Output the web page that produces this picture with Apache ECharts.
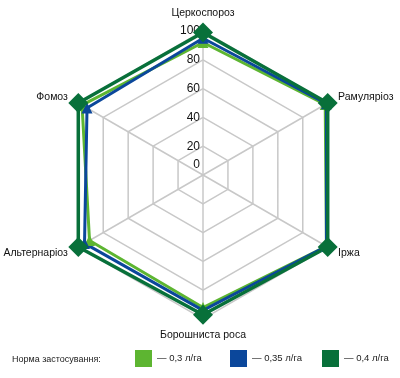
<!DOCTYPE html>
<html><head><meta charset="utf-8">
<script src="https://cdn.jsdelivr.net/npm/echarts@6/dist/echarts.min.js"></script>
<style>html,body{margin:0;padding:0;background:#fff}#c{width:400px;height:378px}</style>
</head><body><div id="c"></div>
<script>
const indicators = ['Церкоспороз', 'Фомоз', 'Альтернаріоз', 'Борошниста роса', 'Іржа', 'Рамуляріоз'];
const seriesNames = ['— 0,3 л/га', '— 0,35 л/га', '— 0,4 л/га'];
const rate03 = [92, 97, 91, 92, 99, 98];
const rate035 = [95, 93, 95, 94, 99, 99];
const rate04 = [99, 100, 100, 97, 100, 100];
const legendTitle = 'Норма застосування:';
const axisMax = 100;
const axisStep = 20;

const colors = ['#5db531', '#0b479b', '#08703a'];
const font = 'Liberation Sans, Arial, sans-serif';
const chart = echarts.init(document.getElementById('c'));
const values = [rate03, rate035, rate04];
chart.setOption({
  animation: false,
  title: {text: legendTitle, left: 12, top: 355, padding: 0, textStyle: {fontFamily: font, fontSize: 9, fontWeight: 'normal', color: '#222'}},
  legend: seriesNames.map((n, i) => ({
    data: [n], left: [135, 230, 322][i], top: 350, padding: 0, itemWidth: 17, itemHeight: 17, icon: 'rect', itemGap: 0,
    textStyle: {fontFamily: font, fontSize: 9.5, color: '#222'}
  })),
  radar: {
    center: [203, 175], radius: 144, startAngle: 90, shape: 'polygon', splitNumber: 5,
    nameGap: 12,
    axisName: {color: '#111', fontFamily: font, fontSize: 10.5,
      formatter: n => (n === 'Борошниста роса' ? '{b|' + n + '}' : n),
      rich: {b: {fontFamily: font, fontSize: 10.5, color: '#111', lineHeight: 8}}},
    indicator: indicators.map((n, i) => ({name: n, min: 0, max: axisMax, interval: axisStep,
      axisLabel: {show: i === 0, color: '#111', fontFamily: font, fontSize: 12, margin: 3, align: 'right', verticalAlign: 'middle',
        formatter: v => (v === 0 ? '{z|0}' : String(v)),
        rich: {z: {fontFamily: font, fontSize: 12, color: '#111', padding: [0, 0, 20, 0]}}}})),
    axisLine: {lineStyle: {color: '#c8c8c8', width: 1.5}},
    splitLine: {lineStyle: {color: '#c8c8c8', width: 1.5}},
    splitArea: {show: false},
    axisTick: {show: false}
  },
  series: [{
    type: 'radar',
    data: values.map((v, i) => ({
      name: seriesNames[i], value: v,
      symbol: i === 2 ? 'diamond' : 'triangle',
      symbolSize: i === 2 ? 20 : 11,
      lineStyle: {color: colors[i], width: i === 2 ? 3.5 : 3},
      itemStyle: {color: colors[i]}
    }))
  }],
  color: colors
});
</script></body></html>
